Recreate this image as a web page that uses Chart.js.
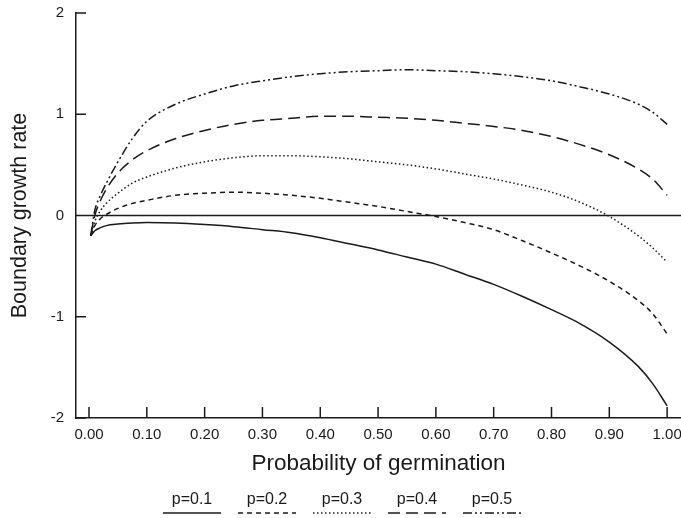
<!DOCTYPE html>
<html>
<head>
<meta charset="utf-8">
<script src="https://cdn.jsdelivr.net/npm/chart.js@4/dist/chart.umd.min.js"></script>
<style>
  body { margin: 0; background: #fff; }
  #wrap { width: 681px; height: 518px; }
</style>
</head>
<body>
<div id="wrap"><canvas id="chart" width="681" height="518"></canvas></div>
<script>
// probability of germination (x)
const germ = [0.003, 0.01, 0.02, 0.03, 0.05, 0.075, 0.1, 0.15, 0.2, 0.25, 0.3, 0.35, 0.4, 0.45,
  0.5, 0.55, 0.6, 0.65, 0.7, 0.75, 0.8, 0.85, 0.9, 0.95, 0.975, 1.0];

// boundary growth rate, one array per p
const p01 = [-0.2, -0.15, -0.12, -0.1, -0.085, -0.075, -0.07, -0.075, -0.09, -0.11, -0.14, -0.17, -0.22, -0.28,
  -0.34, -0.41, -0.48, -0.58, -0.68, -0.8, -0.93, -1.07, -1.25, -1.49, -1.66, -1.88];
const p02 = [-0.2, -0.1, -0.03, 0.01, 0.07, 0.12, 0.15, 0.2, 0.22, 0.23, 0.22, 0.2, 0.17, 0.13,
  0.09, 0.04, -0.01, -0.07, -0.14, -0.25, -0.37, -0.5, -0.65, -0.84, -0.97, -1.17];
const p03 = [-0.2, -0.06, 0.05, 0.12, 0.22, 0.32, 0.38, 0.47, 0.53, 0.57, 0.59, 0.59, 0.58, 0.56,
  0.53, 0.5, 0.46, 0.41, 0.36, 0.3, 0.23, 0.13, -0.01, -0.2, -0.32, -0.46];
const p04 = [-0.2, 0.0, 0.15, 0.26, 0.42, 0.55, 0.64, 0.76, 0.84, 0.9, 0.94, 0.96, 0.98, 0.98,
  0.97, 0.96, 0.94, 0.91, 0.88, 0.84, 0.78, 0.7, 0.6, 0.46, 0.36, 0.2];
const p05 = [-0.2, 0.05, 0.2, 0.32, 0.53, 0.76, 0.93, 1.1, 1.2, 1.28, 1.33, 1.37, 1.4, 1.42,
  1.43, 1.44, 1.43, 1.42, 1.4, 1.37, 1.33, 1.27, 1.2, 1.1, 1.02, 0.9];

const seriesNames = ['p=0.1', 'p=0.2', 'p=0.3', 'p=0.4', 'p=0.5'];
const seriesData = [p01, p02, p03, p04, p05];
const dashes = [[], [5, 4], [1.5, 2.5], [12, 6], [9, 3, 2, 3, 2, 3]];

const xTicks = [0, 0.1, 0.2, 0.3, 0.4, 0.5, 0.6, 0.7, 0.8, 0.9, 1.0];
const yTicks = [-2, -1, 0, 1, 2];

const FONT = '"Liberation Sans", Arial, Helvetica, sans-serif';
const INK = '#1a1a1a';

// inward tick marks, zero line and the legend under the axis title
const extras = {
  id: 'extras',
  afterDraw(chart) {
    const ctx = chart.ctx;
    const xs = chart.scales.x, ys = chart.scales.y;
    const area = chart.chartArea;
    ctx.save();
    ctx.strokeStyle = INK;
    ctx.lineWidth = 1.5;
    ctx.beginPath();
    xTicks.forEach(v => {
      const px = xs.getPixelForValue(v);
      ctx.moveTo(px, area.bottom);
      ctx.lineTo(px, area.bottom - 11);
    });
    yTicks.forEach(v => {
      const py = ys.getPixelForValue(v);
      ctx.moveTo(area.left, py);
      ctx.lineTo(area.left + 10, py);
    });
    const y0 = ys.getPixelForValue(0);
    ctx.moveTo(area.left, y0);
    ctx.lineTo(area.right, y0);
    ctx.stroke();

    ctx.font = '16px ' + FONT;
    ctx.fillStyle = INK;
    ctx.textAlign = 'center';
    ctx.textBaseline = 'middle';
    seriesNames.forEach((name, i) => {
      const cx = 192 + 75 * i;
      ctx.fillText(name, cx, 500);
      ctx.setLineDash(dashes[i]);
      ctx.beginPath();
      ctx.moveTo(cx - 29, 513);
      ctx.lineTo(cx + 29, 513);
      ctx.stroke();
    });
    ctx.restore();
  }
};

new Chart(document.getElementById('chart'), {
  type: 'line',
  data: {
    datasets: seriesData.map((vals, i) => ({
      label: seriesNames[i],
      data: vals.map((v, j) => ({x: germ[j], y: v})),
      borderColor: INK,
      borderWidth: 1.5,
      borderDash: dashes[i],
      pointRadius: 0,
      fill: false,
      cubicInterpolationMode: 'monotone',
    })),
  },
  options: {
    responsive: false,
    animation: false,
    layout: {padding: {top: 13, right: 0, bottom: 40, left: 0}},
    plugins: {legend: {display: false}, tooltip: {enabled: false}},
    scales: {
      x: {
        type: 'linear',
        min: -0.0225,
        max: 1.024,
        afterBuildTicks: s => { s.ticks = xTicks.map(v => ({value: v})); },
        afterFit: s => { s.height = 60; s.paddingLeft = 0; s.paddingRight = 0; },
        grid: {display: false, drawTicks: false},
        border: {display: true, color: INK, width: 1.5},
        ticks: {
          color: INK,
          font: {family: FONT, size: 15},
          padding: 8,
          maxRotation: 0,
          callback: v => v.toFixed(2),
        },
        title: {
          display: true,
          text: 'Probability of germination',
          color: INK,
          font: {family: FONT, size: 22.5},
          padding: {top: 0, bottom: 1},
        },
      },
      y: {
        min: -2,
        max: 2,
        afterBuildTicks: s => { s.ticks = yTicks.map(v => ({value: v})); },
        afterFit: s => { s.width = 76; s.paddingTop = 0; s.paddingBottom = 0; },
        grid: {display: false, drawTicks: false},
        border: {display: true, color: INK, width: 1.5},
        ticks: {
          color: INK,
          font: {family: FONT, size: 15},
          padding: 12,
          callback: v => String(v),
        },
        title: {
          display: true,
          text: 'Boundary growth rate',
          color: INK,
          font: {family: FONT, size: 21.5},
          padding: {top: 7, bottom: 0},
        },
      },
    },
  },
  plugins: [extras],
});
</script>
</body>
</html>
